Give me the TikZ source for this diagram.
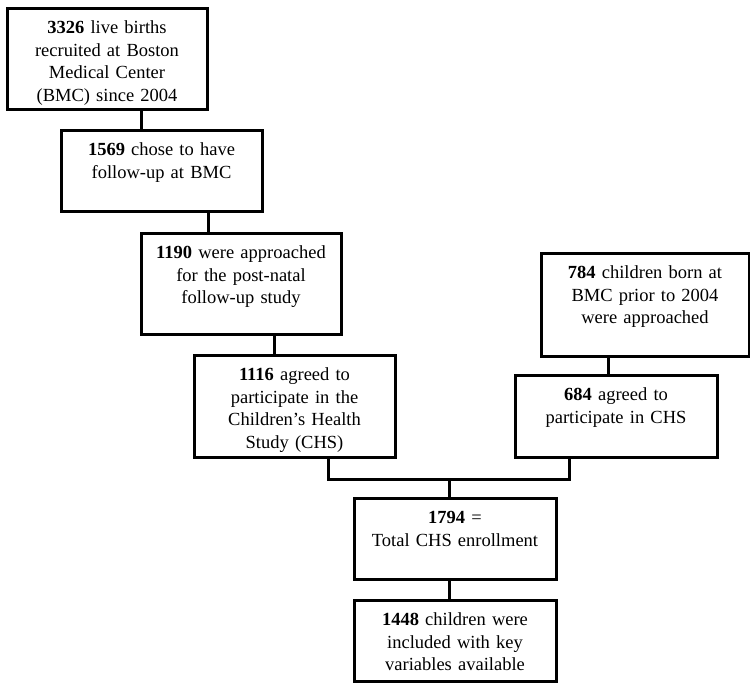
\documentclass[tikz,border=0pt]{standalone}
\usepackage{fontspec}
\setmainfont{Liberation Serif}
\begin{document}
\begin{tikzpicture}[x=1pt, y=-1pt, line width=3pt,
  box/.style={draw, inner sep=0pt, align=center, anchor=north, text height=25pt,
    font=\fontsize{18.5}{22.5}\selectfont}]
\useasboundingbox (0,0) rectangle (750,688);
\node[box, text width=200pt, text depth=76pt] (b1) at (107,7) {\textbf{3326} live births\\recruited at Boston\\Medical Center\\(BMC) since 2004};
\node[box, text width=201pt, text depth=56pt] (b2) at (161.5,129) {\textbf{1569} chose to have\\follow-up at BMC};
\node[box, text width=200pt, text depth=76pt] (b3) at (241,232) {\textbf{1190} were approached\\for the post-natal\\follow-up study};
\node[box, text width=201pt, text depth=77pt] (b4) at (294.5,354) {\textbf{1116} agreed to\\participate in the\\Children’s Health\\Study (CHS)};
\node[box, text width=208pt, text depth=78pt] (b5) at (645,252) {\textbf{784} children born at\\BMC prior to 2004\\were approached};
\node[box, text width=202pt, text depth=57pt] (b6) at (616,374) {\textbf{684} agreed to\\participate in CHS};
\node[box, text width=202pt, text depth=56pt] (b7) at (455,497) {\textbf{1794} =\\Total CHS enrollment};
\node[box, text width=202pt, text depth=56pt] (b8) at (455,599) {\textbf{1448} children were\\included with key\\variables available};
\draw ([xshift=34pt]b1.south) -- ([xshift=34pt]b1.south |- b2.north);
\draw ([xshift=46.5pt]b2.south) -- ([xshift=46.5pt]b2.south |- b3.north);
\draw ([xshift=33pt]b3.south) -- ([xshift=33pt]b3.south |- b4.north);
\draw ([xshift=-37pt]b5.south) -- ([xshift=-37pt]b5.south |- b6.north);
% merge of the two branches
\coordinate (j4) at ([xshift=33.5pt,yshift=-20pt]b4.south);
\coordinate (j6) at ([xshift=-47pt]b6.south |- j4);
\draw ([xshift=33.5pt]b4.south) -- (j4) -- (j6) -- ([xshift=-47pt]b6.south);
\draw ([xshift=-6pt]b7.north |- j4) -- ([xshift=-6pt]b7.north);
\draw ([xshift=-6pt]b7.south) -- ([xshift=-6pt]b8.north);
\end{tikzpicture}
\end{document}
